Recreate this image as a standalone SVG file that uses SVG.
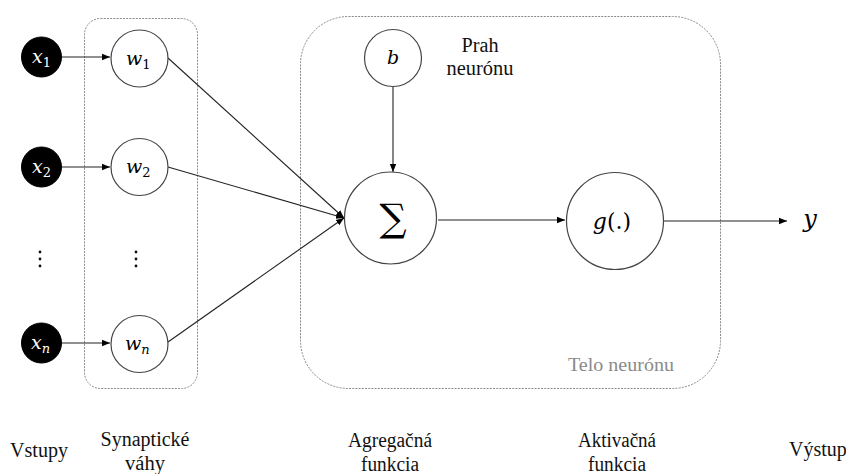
<svg xmlns="http://www.w3.org/2000/svg" width="846" height="474" viewBox="0 0 846 474">
<defs>
<marker id="ah" viewBox="0 0 10 10" refX="10" refY="5" markerWidth="8" markerHeight="8" markerUnits="userSpaceOnUse" orient="auto">
<path d="M0,1 L10,5 L0,9 z" fill="#000"/>
</marker>
<style>
.grp{fill:none;stroke:#8a8a8a;stroke-width:1;stroke-dasharray:2 1.2}
.in{fill:#000;stroke:#000}
.nd{fill:#fff;stroke:#444;stroke-width:1.2}
.cn{stroke:#222;stroke-width:1.1;fill:none;marker-end:url(#ah)}
.m{font-family:"DejaVu Serif",serif;font-style:italic}
.mw{font-family:"DejaVu Serif",serif;font-style:italic;fill:#fff}
.lb{font-family:"Liberation Serif","Tinos","Times New Roman","DejaVu Serif Condensed","DejaVu Serif",serif;font-size:20px;fill:#111}
</style>
</defs>
<rect width="846" height="474" fill="#fff"/>
<g id="synapticke-vahy-box">
<rect class="grp" x="84.5" y="18.5" width="113" height="370" rx="16"/>
</g>
<g id="telo-neuronu">
<rect class="grp" x="300.5" y="16.5" width="420" height="372" rx="48"/>
<text class="lb" x="568" y="371" style="font-size:18px;fill:#8a8a8a" textLength="106" lengthAdjust="spacingAndGlyphs">Telo neurónu</text>
</g>
<g id="connectors">
<line class="cn" x1="62" y1="57" x2="110" y2="57"/>
<line class="cn" x1="62" y1="167" x2="110" y2="167"/>
<line class="cn" x1="62" y1="343" x2="110" y2="343"/>
<line class="cn" x1="168" y1="58" x2="344" y2="218"/>
<line class="cn" x1="168" y1="167" x2="344" y2="218"/>
<line class="cn" x1="168" y1="342" x2="344" y2="218"/>
<line class="cn" x1="393" y1="87" x2="393" y2="172"/>
<line class="cn" x1="438" y1="220" x2="565" y2="220"/>
<line class="cn" x1="664" y1="221" x2="787" y2="221"/>
</g>
<g id="x1"><circle class="in" cx="41.5" cy="57" r="20"/><text class="mw" x="32" y="63" font-size="19">x<tspan font-size="13" dy="4" font-style="normal">1</tspan></text></g>
<g id="x2"><circle class="in" cx="41.5" cy="167" r="20"/><text class="mw" x="32" y="173" font-size="19">x<tspan font-size="13" dy="4" font-style="normal">2</tspan></text></g>
<g id="xn"><circle class="in" cx="41.5" cy="343" r="20"/><text class="mw" x="31" y="349" font-size="19">x<tspan font-size="13" dy="4">n</tspan></text></g>
<g id="dots-x"><circle cx="40" cy="252" r="1.4" fill="#111"/><circle cx="40" cy="259" r="1.4" fill="#111"/><circle cx="40" cy="266" r="1.4" fill="#111"/></g>
<g id="w1"><circle class="nd" cx="139.5" cy="58.5" r="28.5"/><text class="m" x="126" y="65" font-size="19">w<tspan font-size="13" dy="4" font-style="normal">1</tspan></text></g>
<g id="w2"><circle class="nd" cx="139.5" cy="167" r="28.5"/><text class="m" x="126" y="173" font-size="19">w<tspan font-size="13" dy="4" font-style="normal">2</tspan></text></g>
<g id="wn"><circle class="nd" cx="139.5" cy="344" r="28.5"/><text class="m" x="125" y="350" font-size="19">w<tspan font-size="13" dy="4">n</tspan></text></g>
<g id="dots-w"><circle cx="136" cy="252" r="1.4" fill="#111"/><circle cx="136" cy="259" r="1.4" fill="#111"/><circle cx="136" cy="266" r="1.4" fill="#111"/></g>
<g id="b"><circle class="nd" cx="393" cy="58" r="28.5"/><text class="m" x="393" y="64" font-size="19" text-anchor="middle">b</text></g>
<g id="prah"><text class="lb" x="480" y="52" text-anchor="middle" textLength="37" lengthAdjust="spacingAndGlyphs">Prah</text><text class="lb" x="480" y="75" text-anchor="middle" textLength="67" lengthAdjust="spacingAndGlyphs">neurónu</text></g>
<g id="sum"><circle class="nd" cx="390.5" cy="218" r="46"/><text x="393" y="231" font-family="DejaVu Serif, serif" font-size="38" text-anchor="middle">∑</text></g>
<g id="g"><circle class="nd" cx="615" cy="221" r="48.5"/><text class="m" x="612" y="229" font-size="22" text-anchor="middle">g<tspan font-style="normal">(.)</tspan></text></g>
<g id="y"><text class="m" x="810" y="227" font-size="24" text-anchor="middle">y</text></g>
<g id="labels">
<text class="lb" x="10" y="457" textLength="58" lengthAdjust="spacingAndGlyphs">Vstupy</text>
<text class="lb" x="145" y="446" text-anchor="middle" textLength="89" lengthAdjust="spacingAndGlyphs">Synaptické</text>
<text class="lb" x="145" y="470" text-anchor="middle" textLength="40" lengthAdjust="spacingAndGlyphs">váhy</text>
<text class="lb" x="390" y="447" text-anchor="middle" textLength="84" lengthAdjust="spacingAndGlyphs">Agregačná</text>
<text class="lb" x="390" y="471" text-anchor="middle" textLength="58" lengthAdjust="spacingAndGlyphs">funkcia</text>
<text class="lb" x="617" y="447" text-anchor="middle" textLength="78" lengthAdjust="spacingAndGlyphs">Aktivačná</text>
<text class="lb" x="617" y="471" text-anchor="middle" textLength="58" lengthAdjust="spacingAndGlyphs">funkcia</text>
<text class="lb" x="789" y="456">Výstup</text>
</g>
</svg>
